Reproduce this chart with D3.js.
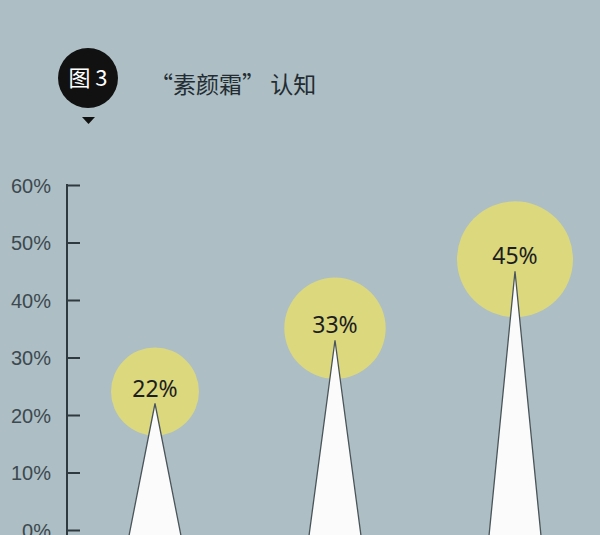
<!DOCTYPE html>
<html><head><meta charset="utf-8">
<script src="https://cdn.jsdelivr.net/npm/d3@7"></script>
<style>html,body{margin:0;padding:0;background:#adbec4;}svg{display:block;}</style>
</head><body>
<svg id="c" width="600" height="535"></svg>
<script>
const categories = ["A", "B", "C"];
const values = [22, 33, 45];
const valueLabels = ["22%", "33%", "45%"];
const yTicks = [0, 10, 20, 30, 40, 50, 60];
const titleBadge = "图 3";
const titleText = "“素颜霜” 认知";

const svg = d3.select("#c");
svg.append("rect").attr("width", 600).attr("height", 535).attr("fill", "#adbec4");

const y = d3.scaleLinear().domain([0, 60]).range([530, 185]);
const x = d3.scalePoint().domain(categories).range([155, 515]);
const r = d3.scaleLinear().domain([22, 45]).range([44, 58]);

// axis
const axis = d3.axisRight(y).tickValues(yTicks).tickSize(13).tickFormat(d => d + "%");
const ag = svg.append("g").attr("transform", "translate(67,0)").call(axis);
ag.select(".domain").attr("stroke", "#2e3a40").attr("stroke-width", 2).attr("d", `M1,${y(60)}H0V${y(0)+10}`);
ag.selectAll(".tick line").attr("stroke", "#2e3a40").attr("stroke-width", 2);
ag.selectAll(".tick text").attr("x", -16).attr("dy", "0.36em").attr("text-anchor", "end")
  .attr("fill", "#3c494f").style("font-family", "Liberation Sans, Arial, sans-serif").style("font-size", "20px");

// circles
const g = svg.append("g");
g.selectAll("circle.bub").data(values).join("circle").attr("class", "bub")
  .attr("cx", (d, i) => x(categories[i]))
  .attr("cy", d => y(d) - 12)
  .attr("r", d => r(d))
  .attr("fill", "#dbd87e");

// spikes
g.selectAll("path.spike").data(values).join("path").attr("class", "spike")
  .attr("d", (d, i) => {
    const cx = x(categories[i]);
    return `M${cx},${y(d)}L${cx + 26},${y(-1)}L${cx - 26},${y(-1)}Z`;
  })
  .attr("fill", "#fbfbfb").attr("stroke", "#4a555a").attr("stroke-width", 1.3);

// labels
g.selectAll("text.lbl").data(values).join("text").attr("class", "lbl")
  .attr("x", (d, i) => x(categories[i]))
  .attr("y", d => y(d) - 7)
  .attr("text-anchor", "middle")
  .attr("fill", "#1e1e1e")
  .style("font-family", "Noto Sans, sans-serif").style("font-size", "23px")
  .text((d, i) => valueLabels[i]);

// title badge
svg.append("circle").attr("cx", 88).attr("cy", 78).attr("r", 30).attr("fill", "#111");
svg.append("path").attr("d", "M82,117L95,117L88.5,124Z").attr("fill", "#111");
svg.append("text").attr("x", 88).attr("y", 86).attr("text-anchor", "middle")
  .attr("fill", "#fff").style("font-family", "Noto Sans CJK SC, sans-serif").style("font-size", "22px")
  .text(titleBadge);
svg.append("text").attr("x", 150).attr("y", 93)
  .attr("fill", "#222c32").style("font-family", "Noto Sans CJK SC, sans-serif").style("font-size", "23px")
  .text(titleText);
</script>
</body></html>
